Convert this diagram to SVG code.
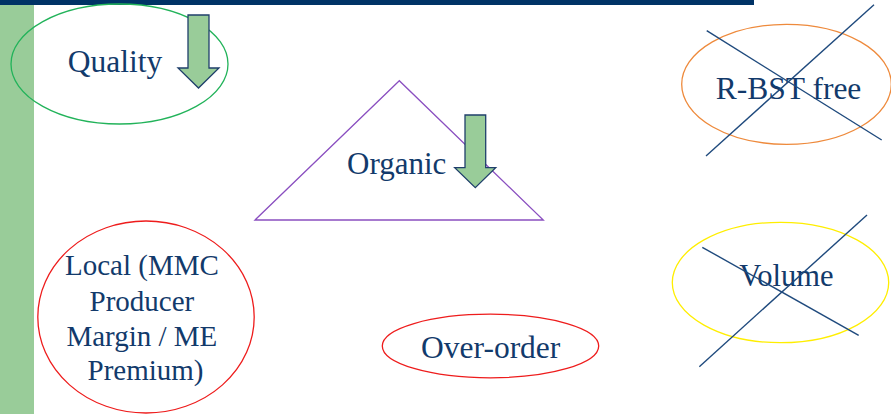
<svg xmlns="http://www.w3.org/2000/svg" width="891" height="414" viewBox="0 0 891 414">
  <style>
    .lbl { font-family: "Liberation Serif", "Times New Roman", serif; fill: #123a6b; text-anchor: middle; }
    .shape { fill: none; stroke-width: 1.3; }
    .down { fill: #99cc99; stroke: #1f3f6b; stroke-width: 1.3; stroke-linejoin: miter; }
    .cross { stroke: #1f4a7d; stroke-width: 1.4; fill: none; }
  </style>
  <rect width="891" height="414" fill="#ffffff"/>
  <!-- slide frame: top rule and left band -->
  <rect x="0" y="0" width="754" height="5" fill="#003366"/>
  <rect x="0" y="5" width="34" height="409" fill="#99cc99"/>

  <g id="quality">
    <ellipse class="shape" cx="119.5" cy="64" rx="108.5" ry="60" stroke="#22b35a"/>
    <text class="lbl" x="115" y="72" font-size="31.5">Quality</text>
    <polygon class="down" points="188,15 209,15 209,68 219,68 198.5,88 178,68 188,68"/>
  </g>

  <g id="organic">
    <polygon class="shape" points="399.3,80.7 255,220 543.3,220" stroke="#8a4fc0"/>
    <text class="lbl" x="396.7" y="174" font-size="31">Organic</text>
    <polygon class="down" points="465,115 485.7,115 485.7,167.7 495.7,167.7 475.3,187.7 454.7,167.7 465,167.7"/>
  </g>

  <g id="rbst-free">
    <ellipse class="shape" cx="786.5" cy="84.3" rx="104.8" ry="60" stroke="#ee8a3c"/>
    <text class="lbl" x="788.6" y="99" font-size="31.5">R-BST free</text>
  </g>

  <g id="volume">
    <ellipse class="shape" cx="780.5" cy="282.5" rx="108.2" ry="60.2" stroke="#ffee00"/>
    <text class="lbl" x="786.3" y="285.7" font-size="30.5">Volume</text>
  </g>

  <g id="local">
    <ellipse class="shape" cx="146" cy="317" rx="108.2" ry="96" stroke="#ee1c1c"/>
    <text class="lbl" font-size="29">
      <tspan x="145.5" y="275">Local (MMC</tspan>
      <tspan x="145.5" y="310.7">Producer</tspan>
      <tspan x="145.5" y="346">Margin / ME</tspan>
      <tspan x="145.5" y="380">Premium)</tspan>
    </text>
  </g>

  <g id="over-order">
    <ellipse class="shape" cx="490.5" cy="346" rx="108.2" ry="31.8" stroke="#ee1c1c"/>
    <text class="lbl" x="490.7" y="358.3" font-size="31.5">Over-order</text>
  </g>

  <!-- strike-through marks over discarded items -->
  <g id="connectors">
    <line class="cross" x1="706.7" y1="30.7" x2="881.7" y2="140"/>
    <line class="cross" x1="706" y1="156" x2="874" y2="4.7"/>
    <line class="cross" x1="702.3" y1="247.3" x2="858.7" y2="335.3"/>
    <line class="cross" x1="699.3" y1="366.7" x2="867" y2="215"/>
  </g>
</svg>
